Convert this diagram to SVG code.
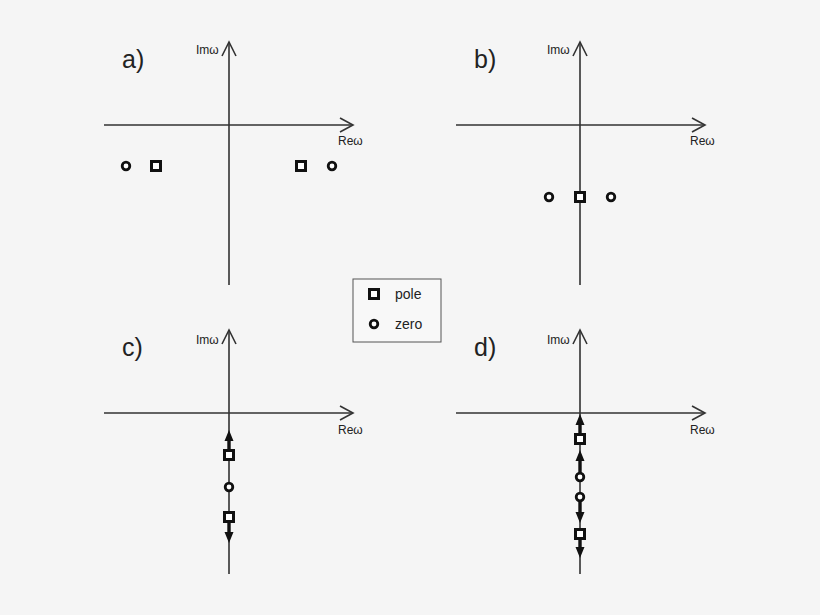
<svg xmlns="http://www.w3.org/2000/svg" width="820" height="615" viewBox="0 0 820 615">
<defs>
<style>
.ax{stroke:#333;stroke-width:1.6;fill:none}
.chev{stroke:#333;stroke-width:1.6;fill:none}
.thick{stroke:#111;stroke-width:3.4;fill:none}
.pole{fill:#fff;stroke:#111;stroke-width:3}
.zero{fill:#fff;stroke:#111;stroke-width:2.8}
.tri{fill:#111;stroke:none}
.lbl{font-family:"Liberation Sans",Arial,sans-serif;font-size:25px;fill:#222}
.ax-t{font-family:"Liberation Sans",Arial,sans-serif;font-size:12px;fill:#222}
.leg{font-family:"Liberation Sans",Arial,sans-serif;font-size:14px;fill:#222}
</style>
</defs>
<rect width="820" height="615" fill="#f5f5f5"/>
<g id="connectors">
<path class="ax" d="M229,285 V42 M104,125 H353"/>
<path class="chev" d="M222,56 L229,42 L236,56 M340,118 L353,125 L340,132"/>
<path class="ax" d="M580,285 V42 M456,125 H705"/>
<path class="chev" d="M573,56 L580,42 L587,56 M692,118 L705,125 L692,132"/>
<path class="ax" d="M229,574 V330 M104,413 H353"/>
<path class="chev" d="M222,344 L229,330 L236,344 M340,406 L353,413 L340,420"/>
<path class="ax" d="M580,574 V330 M456,413 H705"/>
<path class="chev" d="M573,344 L580,330 L587,344 M692,406 L705,413 L692,420"/>
<path class="thick" d="M229,455 V438 M229,517 V535"/>
<path class="tri" d="M229,430 L224.5,441 L233.5,441 Z M229,543 L224.5,532 L233.5,532 Z"/>
<path class="thick" d="M580,439 V421 M580,477 V458 M580,497 V516 M580,534 V551"/>
<path class="tri" d="M580,414 L575.5,425 L584.5,425 Z M580,450 L575.5,461 L584.5,461 Z M580,523 L575.5,512 L584.5,512 Z M580,558 L575.5,547 L584.5,547 Z"/>
</g>
<g id="panel-a">
<text class="lbl" x="122" y="68">a)</text>
<text class="ax-t" x="196" y="54">Imω</text>
<text class="ax-t" x="338" y="145">Reω</text>
<circle class="zero" cx="126" cy="166" r="3.8"/>
<rect class="pole" x="151.5" y="161.5" width="9" height="9"/>
<rect class="pole" x="296.5" y="161.5" width="9" height="9"/>
<circle class="zero" cx="332" cy="166" r="3.8"/>
</g>
<g id="panel-b">
<text class="lbl" x="474" y="68">b)</text>
<text class="ax-t" x="547" y="54">Imω</text>
<text class="ax-t" x="690" y="145">Reω</text>
<circle class="zero" cx="549" cy="197" r="3.8"/>
<rect class="pole" x="575.5" y="192.5" width="9" height="9"/>
<circle class="zero" cx="611" cy="197" r="3.8"/>
</g>
<g id="panel-c">
<text class="lbl" x="122" y="356">c)</text>
<text class="ax-t" x="196" y="344">Imω</text>
<text class="ax-t" x="338" y="434">Reω</text>
<rect class="pole" x="224.5" y="450.5" width="9" height="9"/>
<circle class="zero" cx="229" cy="487" r="3.8"/>
<rect class="pole" x="224.5" y="512.5" width="9" height="9"/>
</g>
<g id="panel-d">
<text class="lbl" x="474" y="356">d)</text>
<text class="ax-t" x="547" y="344">Imω</text>
<text class="ax-t" x="690" y="434">Reω</text>
<rect class="pole" x="575.5" y="434.5" width="9" height="9"/>
<circle class="zero" cx="580" cy="477" r="3.8"/>
<circle class="zero" cx="580" cy="497" r="3.8"/>
<rect class="pole" x="575.5" y="529.5" width="9" height="9"/>
</g>
<g id="legend">
<rect x="353" y="279" width="88" height="63" fill="#f8f8f8" stroke="#555" stroke-width="1"/>
<rect class="pole" x="369.5" y="289.5" width="9" height="9"/>
<text class="leg" x="395" y="299">pole</text>
<circle class="zero" cx="374" cy="324" r="3.8"/>
<text class="leg" x="395" y="329">zero</text>
</g>
</svg>
